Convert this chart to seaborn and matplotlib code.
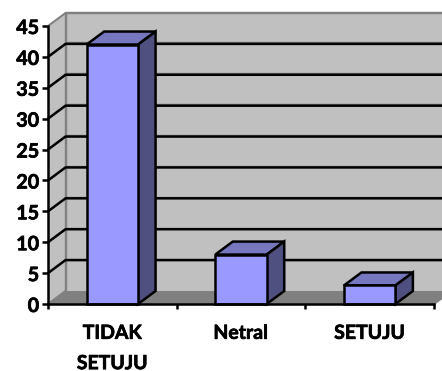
import matplotlib
matplotlib.use("Agg")
import matplotlib.patheffects as pe
import matplotlib.pyplot as plt
import pandas as pd
import seaborn as sns

categories = ["TIDAK\nSETUJU", "Netral", "SETUJU"]
values = [42, 8, 3]
y_ticks = [0, 5, 10, 15, 20, 25, 30, 35, 40, 45]

WALL = "#c0c0c0"
FLOOR = "#808080"
FRONT = "#9999ff"
TOP = "#7777c0"
SIDE = "#4f4f80"
PX = 1 / 0.72  # points to pixels at 100 dpi
INK = 2.5 / PX

sns.set_theme(style="white")
plt.rcParams["font.family"] = ["Lato", "DejaVu Sans"]

fig = plt.figure(figsize=(4.42, 3.71), dpi=100, facecolor="white")
ax = fig.add_axes([48 / 442, 1 - 304 / 371, 386 / 442, 278 / 371])
ax.patch.set_visible(False)

# Oblique depth of the chart box, in data units
DX = 17.5 / (386 / 3)
DY = 13 / (278 / 45)
XMIN, XMAX = -0.5, 2.5
YMAX = y_ticks[-1]
BAR_W = 0.4

frame = pd.DataFrame({"category": categories, "value": values})
sns.barplot(data=frame, x="category", y="value", ax=ax, color=FRONT, saturation=1,
            width=BAR_W, edgecolor="black", linewidth=INK, zorder=5)
for bar in ax.patches:
    bar.set_clip_on(False)

ax.set_xlim(XMIN, XMAX)
ax.set_ylim(0, YMAX)

# Back wall, side wall and floor of the box
ax.fill([XMIN + DX, XMAX + DX, XMAX + DX, XMIN + DX], [DY, DY, YMAX + DY, YMAX + DY],
        color=WALL, lw=0, clip_on=False, zorder=0)
ax.fill([XMIN, XMIN + DX, XMIN + DX, XMIN], [0, DY, YMAX + DY, YMAX],
        color=WALL, lw=0, clip_on=False, zorder=0)
ax.fill([XMIN, XMAX, XMAX + DX, XMIN + DX], [0, 0, DY, DY],
        color=FLOOR, lw=0, clip_on=False, zorder=0.5)
ax.plot([XMIN + DX, XMIN + DX, XMAX + DX], [DY, YMAX + DY, YMAX + DY],
        color=FLOOR, lw=2.4 / PX, clip_on=False, zorder=1)
ax.plot([XMIN, XMIN + DX], [YMAX, YMAX + DY], color=FLOOR, lw=2 / PX, clip_on=False, zorder=1)
ax.plot([XMAX, XMAX + DX], [0, DY], color=FLOOR, lw=2 / PX, clip_on=False, zorder=1)
ax.plot([XMIN, XMIN + DX], [0, DY], color=FLOOR, lw=2 / PX, clip_on=False, zorder=1)

# Gridlines wrap from the axis across the side wall onto the back wall
for tick in y_ticks[1:-1]:
    ax.plot([XMIN + DX, XMAX + DX], [tick + DY + 0.25] * 2, color=FLOOR, lw=1.4 / PX,
            clip_on=False, zorder=1)
    ax.plot([XMIN, XMIN + DX, XMAX + DX], [tick, tick + DY, tick + DY], color="black",
            lw=INK, clip_on=False, zorder=2, solid_joinstyle="miter")

# Top and side faces of each bar
for pos, val in enumerate(values):
    left, right = pos - BAR_W / 2, pos + BAR_W / 2
    ax.fill([left, right, right + DX, left + DX], [val, val, val + DY, val + DY],
            facecolor=TOP, edgecolor="black", lw=INK, clip_on=False, zorder=4,
            joinstyle="miter")
    ax.fill([right, right + DX, right + DX, right], [0, DY, val + DY, val],
            facecolor=SIDE, edgecolor="black", lw=INK, clip_on=False, zorder=4,
            joinstyle="miter")

for name in ("top", "right"):
    ax.spines[name].set_visible(False)
for name in ("left", "bottom"):
    ax.spines[name].set_color("black")
    ax.spines[name].set_linewidth(INK)
    ax.spines[name].set_zorder(6)

ax.set_xlabel("")
ax.set_ylabel("")
ax.set_yticks(y_ticks)
ax.tick_params(axis="y", left=True, length=6 / PX, width=INK, color="black", pad=2,
               labelsize=14.2, labelcolor="black")

# Category labels sit centred between ticks drawn on the category boundaries
ax.set_xticks([0, 1, 2], categories)
ax.set_xticks([-0.5, 0.5, 1.5, 2.5], minor=True)
ax.tick_params(axis="x", which="major", bottom=False, pad=9, labelsize=14, labelcolor="black")
ax.tick_params(axis="x", which="minor", bottom=True, length=5 / PX, width=INK, color="black")

heavier = [pe.withStroke(linewidth=0.5, foreground="black")]
for label in ax.get_yticklabels() + ax.get_xticklabels():
    label.set_fontweight("bold")
    label.set_path_effects(heavier)
for label in ax.get_xticklabels():
    label.set_linespacing(1.95)

fig.savefig("out.png", dpi=100, facecolor="white")
